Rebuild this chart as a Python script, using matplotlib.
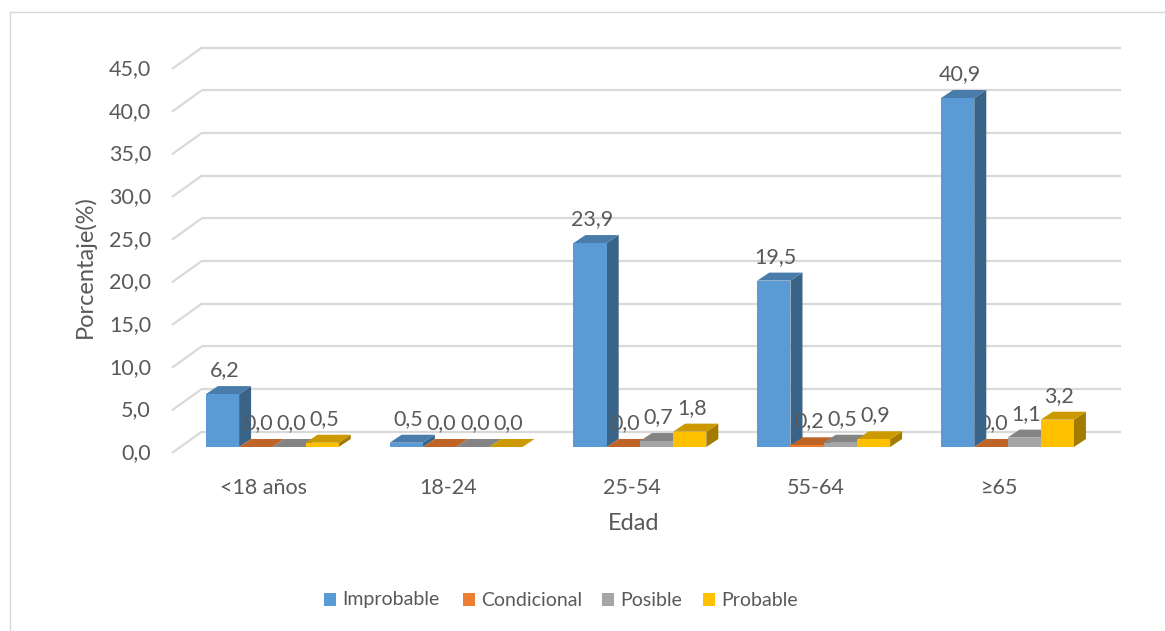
import matplotlib
matplotlib.use("Agg")
import matplotlib.pyplot as plt
from matplotlib.patches import Polygon, Rectangle
import numpy as np

# ---- data ----
categories = ["<18 años", "18-24", "25-54", "55-64", "≥65"]
series_names = ["Improbable", "Condicional", "Posible", "Probable"]
improbable = [6.2, 0.5, 23.9, 19.5, 40.9]
condicional = [0.0, 0.0, 0.0, 0.2, 0.0]
posible = [0.0, 0.0, 0.7, 0.5, 1.1]
probable = [0.5, 0.0, 1.8, 0.9, 3.2]
y_ticks = [0, 5, 10, 15, 20, 25, 30, 35, 40, 45]

series_values = [improbable, condicional, posible, probable]
colors = ["#5B9BD5", "#ED7D31", "#A5A5A5", "#FFC000"]

W, H = 1165, 631
DPI = 100
TEXT = "#595959"
GRID = "#D9D9D9"
FONT = "Lato"
plt.rcParams["font.family"] = [FONT, "DejaVu Sans"]
LABEL_FS = 15.5
TITLE_FS = 17
LEGEND_FS = 14

# pixel geometry of the plot frame (front plane)
X0_PX, CAT_PX = 172.0, 183.8      # left edge of front plane, width per category
Y0_PX, UNIT_PX = 453.0, 8.533     # row of the value 0, pixels per unit

fig = plt.figure(figsize=(W / DPI, H / DPI), dpi=DPI)
ax = fig.add_axes([0, 0, 1, 1])
ax.set_xlim(-X0_PX / CAT_PX, (W - X0_PX) / CAT_PX)
ax.set_ylim(-(H - Y0_PX) / UNIT_PX, Y0_PX / UNIT_PX)
ax.axis("off")


def dx(px):
    return px / CAT_PX


def dy(px):
    return px / UNIT_PX


def shade(c, f):
    r, g, b = matplotlib.colors.to_rgb(c)
    return (r * f, g * f, b * f)


n_cat = len(categories)
# depth of the side walls
wall_dx, wall_dy = dx(30), dy(21.5)

# back wall gridlines and left wall diagonals
for t in y_ticks:
    ax.plot([wall_dx, n_cat + wall_dx], [t + wall_dy, t + wall_dy],
            color=GRID, lw=1.6, zorder=1, solid_capstyle="butt")
    ax.plot([0, wall_dx], [t, t + wall_dy], color=GRID, lw=1.6, zorder=1,
            solid_capstyle="butt")
    ax.text(dx(-21), t, f"{t:.1f}".replace(".", ","), ha="right", va="center",
            fontsize=LABEL_FS, color=TEXT)

# 3D-style bars
bar_w = 0.1807
front_dx, front_dy = dx(8.4), dy(6)
depth_dx, depth_dy = dx(12), dy(8)
group_start = (1 - bar_w * len(series_values)) / 2

z = 5
for ci in range(n_cat):
    for si, vals in enumerate(series_values):
        v = vals[ci]
        c = colors[si]
        x0 = ci + group_start + si * bar_w + front_dx
        b = front_dy
        side = Polygon([(x0 + bar_w, b), (x0 + bar_w, b + v),
                        (x0 + bar_w + depth_dx, b + v + depth_dy),
                        (x0 + bar_w + depth_dx, b + depth_dy)],
                       closed=True, facecolor=shade(c, 0.64), edgecolor="none",
                       zorder=z)
        top = Polygon([(x0, b + v), (x0 + bar_w, b + v),
                       (x0 + bar_w + depth_dx, b + v + depth_dy),
                       (x0 + depth_dx, b + v + depth_dy)],
                      closed=True, facecolor=shade(c, 0.80), edgecolor="none",
                      zorder=z + 1)
        ax.add_patch(side)
        ax.add_patch(top)
        ax.bar(x0, v, width=bar_w, bottom=b, align="edge", color=c,
               edgecolor="none", zorder=z + 2)
        ax.text(x0 + bar_w / 2 + dx(2), b + v + depth_dy + dy(16),
                f"{v:.1f}".replace(".", ","), ha="center", va="center",
                fontsize=LABEL_FS, color=TEXT, zorder=50)
        z += 3

# category labels
for ci, cat in enumerate(categories):
    ax.text(ci + 0.5, -dy(488 - Y0_PX), cat, ha="center", va="center",
            fontsize=LABEL_FS, color=TEXT)

# axis titles
fig.text(85 / W, 1 - 267 / H, "Porcentaje(%)", rotation=90, ha="center",
         va="center", fontsize=TITLE_FS, color=TEXT)
fig.text(634 / W, 1 - 523 / H, "Edad", ha="center", va="center",
         fontsize=TITLE_FS, color=TEXT)

# legend
legend_sq = [324, 463, 602, 703]
for name, c, sx in zip(series_names, colors, legend_sq):
    fig.patches.append(Rectangle((sx / W, 1 - 606 / H), 12 / W, 13 / H,
                                 transform=fig.transFigure, facecolor=c,
                                 edgecolor="none"))
    fig.text((sx + 18) / W, 1 - 600 / H, name, ha="left", va="center",
             fontsize=LEGEND_FS, color=TEXT)

# chart area border (top and left edges)
fig.add_artist(plt.Line2D([9.5 / W, 1], [1 - 11.5 / H, 1 - 11.5 / H],
                          transform=fig.transFigure, color=GRID, lw=1))
fig.add_artist(plt.Line2D([9.5 / W, 9.5 / W], [1 - 11.5 / H, 0],
                          transform=fig.transFigure, color=GRID, lw=1))

fig.savefig("out.png", dpi=DPI)
